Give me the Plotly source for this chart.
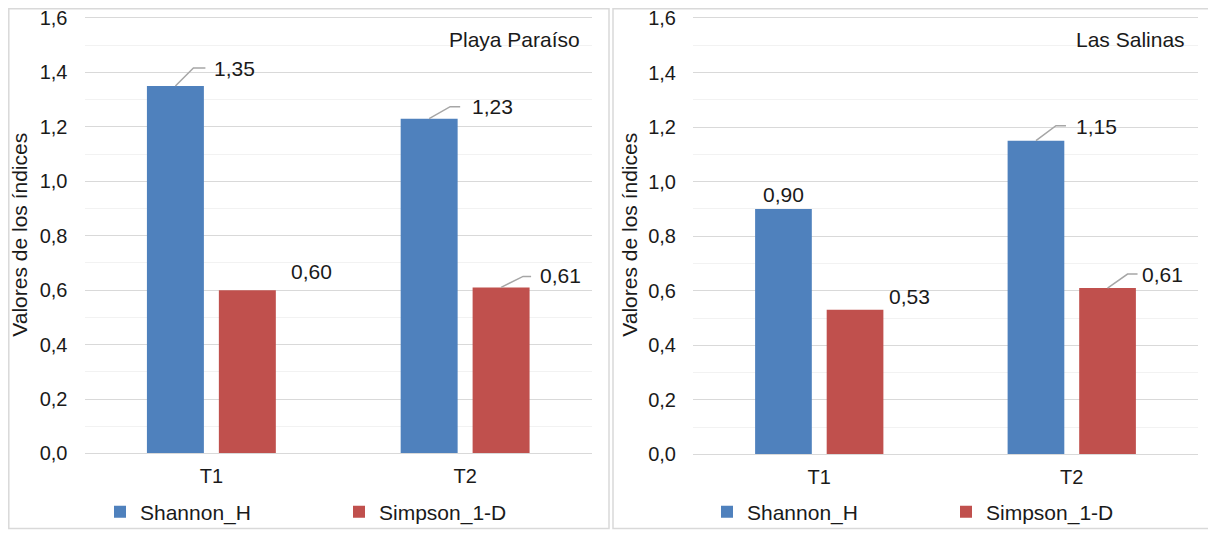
import plotly.graph_objects as go

# ---------------- data ----------------
categories = ["T1", "T2"]
series_names = ["Shannon_H", "Simpson_1-D"]
playa_shannon = [1.35, 1.23]
playa_simpson = [0.60, 0.61]
salinas_shannon = [0.90, 1.15]
salinas_simpson = [0.53, 0.61]
panel_titles = ["Playa Paraíso", "Las Salinas"]
y_title = "Valores de los índices"
y_tick_vals = [0.0, 0.2, 0.4, 0.6, 0.8, 1.0, 1.2, 1.4, 1.6]

# ---------------- style ----------------
PAGE = 8                      # body margin of the html page
W, H = 1216 - PAGE, 533 - PAGE  # figure size that fits in the window


def px(x):
    """page x pixel -> paper fraction"""
    return (x - PAGE) / W


def py(y):
    """page y pixel -> paper fraction"""
    return 1 - (y - PAGE) / H


FONT = "Liberation Sans, Arial, sans-serif"
TXT = "#1a1a1a"
BLUE = "#4F81BD"
RED = "#C0504D"
GRID = "#d9d9d9"
MINOR = "#f2f2f2"
BARGAP = 0.433
GROUPGAP = 0.208
OFF = (1 - BARGAP) / 4  # bar centre offset in category units
FS_LABEL = 21
FS_TICK = 20
Y_TOP = 1.61   # a little head-room so the 1,6 gridline is inside the range

# label placement per panel / series / category: (dx, dy, anchor, leader)
label_style = {
    0: {0: [(37, 17, "left", (18, 18, 30)), (41, 12, "left", (21, 12, 31))],
        1: [(42, 19, "left", None), (37, 12, "left", (22, 11, 30))]},
    1: {0: [(0, 14, "center", None), (38, 14, "left", (20, 15, 30))],
        1: [(32, 13, "left", None), (32, 14, "left", (20, 14, 30))]},
}

# pixel rows of value 0 and value 1.6 in each panel
panels = [
    dict(shannon=playa_shannon, simpson=playa_simpson, title=panel_titles[0],
         xdom=[px(84.5), px(592)], y0=456, y16=18,
         border=(8.8, 609), ytitle_x=20, title_x=582, legend_x=100),
    dict(shannon=salinas_shannon, simpson=salinas_simpson, title=panel_titles[1],
         xdom=[px(693), px(1198)], y0=457, y16=18,
         border=(613, 1215), ytitle_x=630, title_x=1187, legend_x=707),
]

fig = go.Figure()
annotations = []
shapes = []

for p, panel in enumerate(panels):
    sfx = "" if p == 0 else str(p + 1)
    xr, yr = "x" + sfx, "y" + sfx
    leg = "legend" + sfx
    per_unit = (panel["y0"] - panel["y16"]) / 1.6
    ytop_px = panel["y0"] - per_unit * Y_TOP
    for s, (vals, color) in enumerate([(panel["shannon"], BLUE), (panel["simpson"], RED)]):
        fig.add_trace(go.Bar(
            x=categories, y=vals, name=series_names[s], marker=dict(color=color, line=dict(width=0)),
            xaxis=xr, yaxis=yr, legend=leg, hoverinfo="x+y+name",
        ))
        offset = -OFF if s == 0 else OFF
        for i, v in enumerate(vals):
            dx, dy, anc, leader = label_style[p][s][i]
            annotations.append(dict(
                x=i + offset, y=v, xref=xr, yref=yr, text=f"{v:.2f}".replace(".", ","),
                showarrow=False, xshift=dx, yshift=dy, xanchor=anc, yanchor="middle",
                font=dict(family=FONT, size=FS_LABEL, color=TXT),
            ))
            if leader:
                a, b, c = leader
                shapes.append(dict(
                    type="path", xref=xr, yref=yr, xsizemode="pixel", ysizemode="pixel",
                    xanchor=i + offset, yanchor=v, path=f"M0,0 L{a},{b} L{c},{b}",
                    line=dict(color="#a6a6a6", width=1.5),
                ))
    # axes
    fig.layout["xaxis" + sfx] = dict(
        domain=panel["xdom"], anchor=yr, type="category", range=[-0.5, 1.5],
        showgrid=False, showline=True, linecolor=GRID, linewidth=1, ticks="",
        tickfont=dict(family=FONT, size=FS_TICK, color=TXT), ticklabelstandoff=5,
        automargin=False, fixedrange=True,
    )
    fig.layout["yaxis" + sfx] = dict(
        domain=[py(panel["y0"]), py(ytop_px)], anchor=xr, range=[0, Y_TOP],
        tickvals=y_tick_vals, tickformat=".1f", showgrid=True, gridcolor=GRID, gridwidth=1,
        zeroline=True, zerolinecolor=GRID, zerolinewidth=1, showline=False, ticks="",
        minor=dict(tickvals=[0.1, 0.3, 0.5, 0.7, 0.9, 1.1, 1.3, 1.5], showgrid=True,
                   gridcolor=MINOR, gridwidth=1),
        tickfont=dict(family=FONT, size=FS_TICK, color=TXT), ticklabelstandoff=16,
        ticklabeloverflow="allow",
        automargin=False, fixedrange=True,
    )
    # legend
    fig.layout[leg] = dict(
        orientation="h", x=px(panel["legend_x"]), xanchor="left", y=py(515), yanchor="middle",
        xref="paper", yref="paper", font=dict(family=FONT, size=FS_LABEL, color=TXT),
        entrywidth=194, entrywidthmode="pixels", bgcolor="rgba(0,0,0,0)", borderwidth=0,
        traceorder="normal",
    )
    # y title
    annotations.append(dict(
        x=px(panel["ytitle_x"]), y=py(236), xref="paper", yref="paper", text=y_title,
        textangle=-90, showarrow=False, xanchor="center", yanchor="middle",
        font=dict(family=FONT, size=FS_LABEL, color=TXT),
    ))
    # panel title
    annotations.append(dict(
        x=px(panel["title_x"]), y=py(40), xref="paper", yref="paper", text=panel["title"],
        showarrow=False, xanchor="right", yanchor="middle",
        font=dict(family=FONT, size=FS_LABEL, color=TXT),
    ))
    # border
    x0, x1 = panel["border"]
    shapes.append(dict(type="rect", xref="paper", yref="paper", x0=px(x0), x1=px(x1),
                       y0=py(531.5), y1=py(8.8), line=dict(color=GRID, width=1.5),
                       layer="below"))

fig.update_layout(
    width=W, height=H, margin=dict(l=0, r=0, t=0, b=0),
    paper_bgcolor="white", plot_bgcolor="white", separators=",.",
    barmode="group", bargap=BARGAP, bargroupgap=GROUPGAP,
    annotations=annotations, shapes=shapes, font=dict(family=FONT, color=TXT),
)

fig.write_html("out.html")
